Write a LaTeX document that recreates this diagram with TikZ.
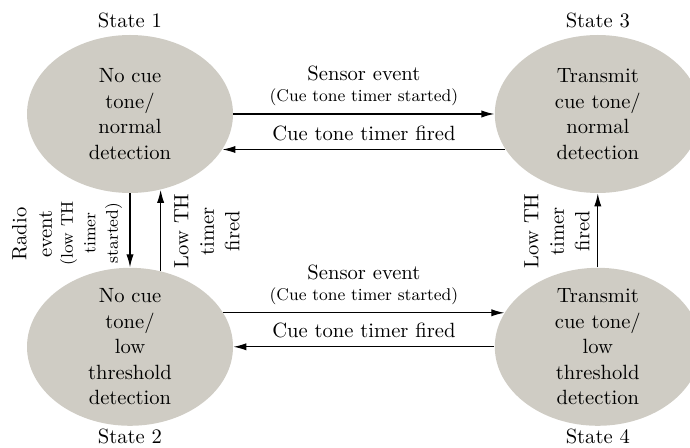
\documentclass[tikz,border=0pt]{standalone}
\usetikzlibrary{shapes.geometric, arrows.meta, positioning}
\definecolor{stateGray}{RGB}{207,204,196}

\begin{document}
\begin{tikzpicture}[
  x=0.5pt, y=-0.5pt,
  font=\fontsize{10.3}{12.75}\selectfont,
  node distance=37pt and 130.5pt,
  stateNode/.style={ellipse, fill=stateGray, minimum width=103pt, minimum height=79pt, inner sep=0pt},
  stateText/.style={align=center},
  smallText/.style={font=\fontsize{8.5}{11.25}\selectfont},
  sideText/.style={rotate=90, align=center},
  transLine/.style={draw, line width=0.6pt, -{Latex[length=6.5pt, width=3.6pt]}}
]
  \useasboundingbox (0,0) rectangle (690,448);
  \clip (0,0) rectangle (690,448);

  \node [stateNode] (s1) at (130,114) {};
  \node [stateNode] (s3) [right=of s1] {};
  \node [stateNode] (s2) [below=of s1] {};
  \node [stateNode] (s4) [right=of s2] {};

  \node [stateText] (t1) at (s1) {No cue\\tone/\\normal\\detection};
  \node [stateText] (t3) at (s3) {Transmit\\cue tone/\\normal\\detection};
  \node [stateText] (t2) at (s2) {No cue\\tone/\\low\\threshold\\detection};
  \node [stateText] (t4) at (s4) {Transmit\\cue tone/\\low\\threshold\\detection};

  \node [above=0pt of s1] (l1) {State 1};
  \node [above=0pt of s3] (l3) {State 3};
  \node [below=-2pt of s2] (l2) {State 2};
  \node [below=-2pt of s4] (l4) {State 4};

  % horizontal transitions
  \draw [transLine] (s1.east) -- (s3.west)
    node [midway, anchor=base, yshift=6pt, smallText] (ev13) {(Cue tone timer started)}
    node [midway, anchor=base, yshift=16.5pt] (se13) {Sensor event};
  \draw [transLine] (s3.-159) -- (s1.-21)
    node [midway, anchor=base, yshift=4.25pt] (fi31) {Cue tone timer fired};
  \draw [transLine] (s2.20) -- (s4.160)
    node [midway, anchor=base, yshift=6pt, smallText] (ev24) {(Cue tone timer started)}
    node [midway, anchor=base, yshift=16.5pt] (se24) {Sensor event};
  \draw [transLine] (s4.west) -- (s2.east)
    node [midway, anchor=base, yshift=4.5pt] (fi42) {Cue tone timer fired};

  % vertical transitions
  \draw [transLine] (s1.south) -- (s2.north);
  \draw [transLine] (s2.68) -- (s1.-68);
  \draw [transLine] (s4.north) -- (s3.south);

  \node [sideText] (re12) at (32,234) {Radio\\event};
  \node [sideText, smallText] (lt12) at (91,233) {(low TH\\timer\\started)};
  \node [sideText] (lf21) at (207,231) {Low TH\\timer\\fired};
  \node [sideText] (lf43) at (557,231) {Low TH\\timer\\fired};
\end{tikzpicture}
\end{document}
